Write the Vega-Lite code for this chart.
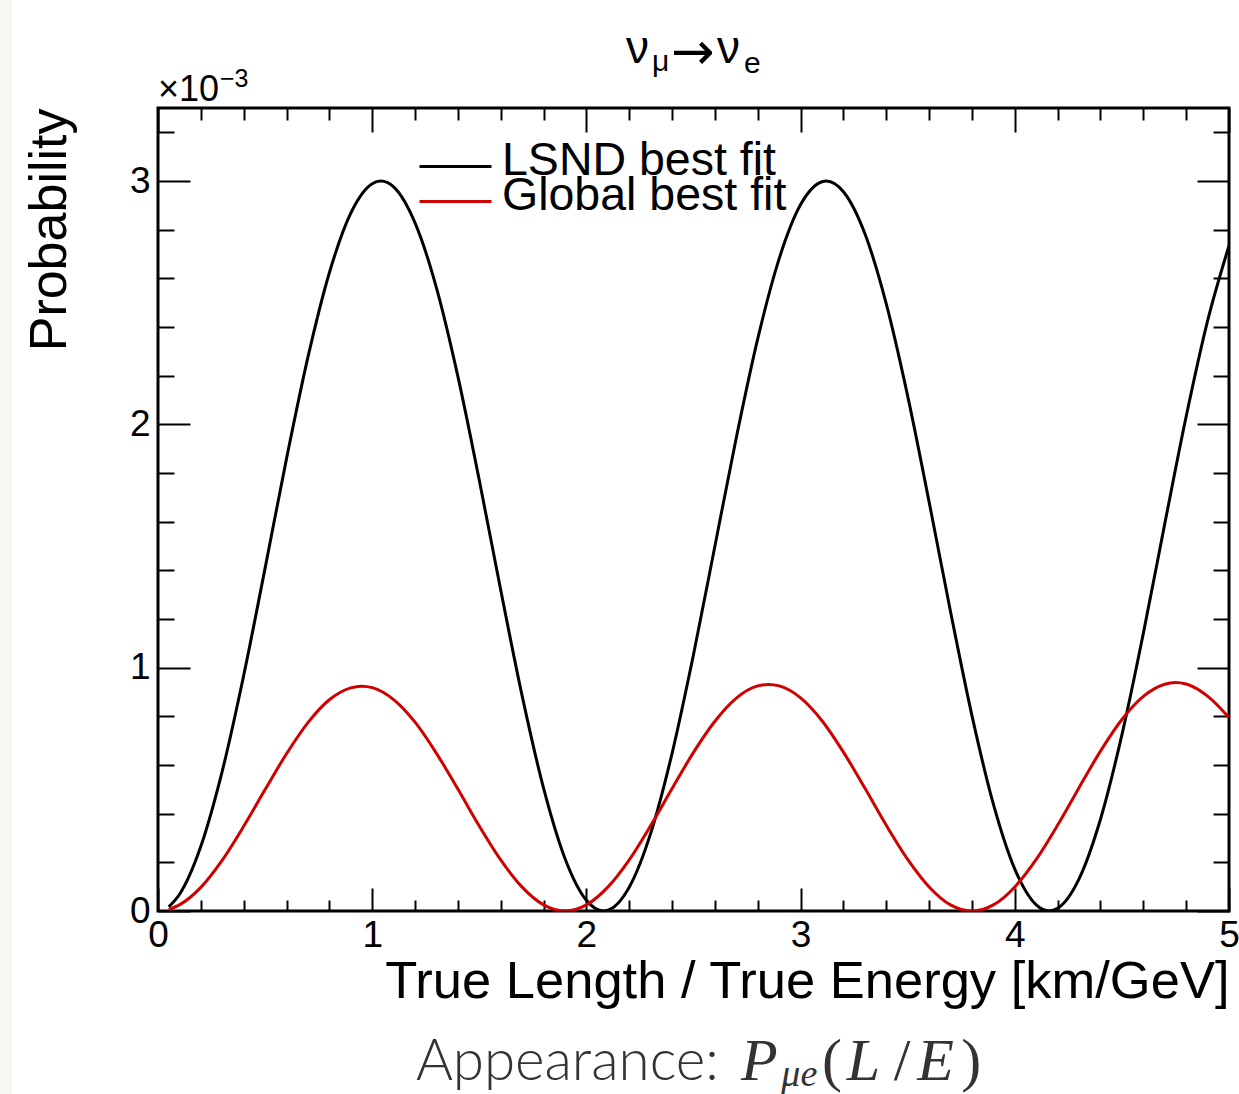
{
  "$schema": "https://vega.github.io/schema/vega-lite/v6.json",
  "width": 1071,
  "height": 803,
  "autosize": {"type": "none"},
  "padding": {"left": 158, "top": 108, "right": 10, "bottom": 183},
  "background": "white",
  "config": {
    "view": {"stroke": "#000", "strokeWidth": 3},
    "axis": {"domain": false, "grid": false, "tickColor": "#000", "tickWidth": 2},
    "legend": {"orient": "none", "title": null, "symbolType": "stroke", "symbolSize": 5184, "symbolStrokeWidth": 3,
      "labelFont": "Liberation Sans", "labelFontSize": 46.5, "labelColor": "#000", "labelOffset": 9, "padding": 0, "labelLimit": 1000},
    "text": {"color": "#000"}
  },
  "data": {"values": [
    {"series": "LSND best fit", "x": 0.05, "p": 0.017},
    {"series": "LSND best fit", "x": 0.1, "p": 0.068},
    {"series": "LSND best fit", "x": 0.2, "p": 0.266},
    {"series": "LSND best fit", "x": 0.3, "p": 0.575},
    {"series": "LSND best fit", "x": 0.4, "p": 0.968},
    {"series": "LSND best fit", "x": 0.5, "p": 1.409},
    {"series": "LSND best fit", "x": 0.6, "p": 1.859},
    {"series": "LSND best fit", "x": 0.7, "p": 2.276},
    {"series": "LSND best fit", "x": 0.8, "p": 2.623},
    {"series": "LSND best fit", "x": 0.9, "p": 2.868},
    {"series": "LSND best fit", "x": 1.0, "p": 2.989},
    {"series": "LSND best fit", "x": 1.04, "p": 3.0},
    {"series": "LSND best fit", "x": 1.1, "p": 2.976},
    {"series": "LSND best fit", "x": 1.2, "p": 2.828},
    {"series": "LSND best fit", "x": 1.3, "p": 2.561},
    {"series": "LSND best fit", "x": 1.4, "p": 2.197},
    {"series": "LSND best fit", "x": 1.5, "p": 1.770},
    {"series": "LSND best fit", "x": 1.6, "p": 1.319},
    {"series": "LSND best fit", "x": 1.7, "p": 0.884},
    {"series": "LSND best fit", "x": 1.8, "p": 0.505},
    {"series": "LSND best fit", "x": 1.9, "p": 0.216},
    {"series": "LSND best fit", "x": 2.0, "p": 0.044},
    {"series": "LSND best fit", "x": 2.08, "p": 0.0},
    {"series": "LSND best fit", "x": 2.1, "p": 0.003},
    {"series": "LSND best fit", "x": 2.2, "p": 0.098},
    {"series": "LSND best fit", "x": 2.3, "p": 0.319},
    {"series": "LSND best fit", "x": 2.4, "p": 0.648},
    {"series": "LSND best fit", "x": 2.5, "p": 1.054},
    {"series": "LSND best fit", "x": 2.6, "p": 1.500},
    {"series": "LSND best fit", "x": 2.7, "p": 1.946},
    {"series": "LSND best fit", "x": 2.8, "p": 2.352},
    {"series": "LSND best fit", "x": 2.9, "p": 2.681},
    {"series": "LSND best fit", "x": 3.0, "p": 2.903},
    {"series": "LSND best fit", "x": 3.1, "p": 2.997},
    {"series": "LSND best fit", "x": 3.12, "p": 3.0},
    {"series": "LSND best fit", "x": 3.2, "p": 2.956},
    {"series": "LSND best fit", "x": 3.3, "p": 2.784},
    {"series": "LSND best fit", "x": 3.4, "p": 2.495},
    {"series": "LSND best fit", "x": 3.5, "p": 2.116},
    {"series": "LSND best fit", "x": 3.6, "p": 1.681},
    {"series": "LSND best fit", "x": 3.7, "p": 1.230},
    {"series": "LSND best fit", "x": 3.8, "p": 0.803},
    {"series": "LSND best fit", "x": 3.9, "p": 0.439},
    {"series": "LSND best fit", "x": 4.0, "p": 0.172},
    {"series": "LSND best fit", "x": 4.1, "p": 0.025},
    {"series": "LSND best fit", "x": 4.16, "p": 0.0},
    {"series": "LSND best fit", "x": 4.2, "p": 0.011},
    {"series": "LSND best fit", "x": 4.3, "p": 0.132},
    {"series": "LSND best fit", "x": 4.4, "p": 0.377},
    {"series": "LSND best fit", "x": 4.5, "p": 0.724},
    {"series": "LSND best fit", "x": 4.6, "p": 1.141},
    {"series": "LSND best fit", "x": 4.7, "p": 1.591},
    {"series": "LSND best fit", "x": 4.8, "p": 2.032},
    {"series": "LSND best fit", "x": 4.9, "p": 2.425},
    {"series": "LSND best fit", "x": 5.0, "p": 2.734},
    {"series": "Global best fit", "x": 0.05, "p": 0.006},
    {"series": "Global best fit", "x": 0.1, "p": 0.025},
    {"series": "Global best fit", "x": 0.2, "p": 0.097},
    {"series": "Global best fit", "x": 0.3, "p": 0.209},
    {"series": "Global best fit", "x": 0.4, "p": 0.348},
    {"series": "Global best fit", "x": 0.5, "p": 0.499},
    {"series": "Global best fit", "x": 0.6, "p": 0.646},
    {"series": "Global best fit", "x": 0.7, "p": 0.774},
    {"series": "Global best fit", "x": 0.8, "p": 0.868},
    {"series": "Global best fit", "x": 0.9, "p": 0.917},
    {"series": "Global best fit", "x": 0.95, "p": 0.924},
    {"series": "Global best fit", "x": 1.0, "p": 0.918},
    {"series": "Global best fit", "x": 1.1, "p": 0.869},
    {"series": "Global best fit", "x": 1.2, "p": 0.776},
    {"series": "Global best fit", "x": 1.3, "p": 0.648},
    {"series": "Global best fit", "x": 1.4, "p": 0.501},
    {"series": "Global best fit", "x": 1.5, "p": 0.349},
    {"series": "Global best fit", "x": 1.6, "p": 0.210},
    {"series": "Global best fit", "x": 1.7, "p": 0.098},
    {"series": "Global best fit", "x": 1.8, "p": 0.025},
    {"series": "Global best fit", "x": 1.9, "p": 0.0},
    {"series": "Global best fit", "x": 2.0, "p": 0.025},
    {"series": "Global best fit", "x": 2.1, "p": 0.098},
    {"series": "Global best fit", "x": 2.2, "p": 0.210},
    {"series": "Global best fit", "x": 2.3, "p": 0.351},
    {"series": "Global best fit", "x": 2.4, "p": 0.503},
    {"series": "Global best fit", "x": 2.5, "p": 0.652},
    {"series": "Global best fit", "x": 2.6, "p": 0.780},
    {"series": "Global best fit", "x": 2.7, "p": 0.875},
    {"series": "Global best fit", "x": 2.8, "p": 0.925},
    {"series": "Global best fit", "x": 2.85, "p": 0.931},
    {"series": "Global best fit", "x": 2.9, "p": 0.925},
    {"series": "Global best fit", "x": 3.0, "p": 0.876},
    {"series": "Global best fit", "x": 3.1, "p": 0.782},
    {"series": "Global best fit", "x": 3.2, "p": 0.653},
    {"series": "Global best fit", "x": 3.3, "p": 0.505},
    {"series": "Global best fit", "x": 3.4, "p": 0.352},
    {"series": "Global best fit", "x": 3.5, "p": 0.212},
    {"series": "Global best fit", "x": 3.6, "p": 0.099},
    {"series": "Global best fit", "x": 3.7, "p": 0.025},
    {"series": "Global best fit", "x": 3.8, "p": 0.0},
    {"series": "Global best fit", "x": 3.9, "p": 0.025},
    {"series": "Global best fit", "x": 4.0, "p": 0.099},
    {"series": "Global best fit", "x": 4.1, "p": 0.212},
    {"series": "Global best fit", "x": 4.2, "p": 0.353},
    {"series": "Global best fit", "x": 4.3, "p": 0.507},
    {"series": "Global best fit", "x": 4.4, "p": 0.657},
    {"series": "Global best fit", "x": 4.5, "p": 0.787},
    {"series": "Global best fit", "x": 4.6, "p": 0.882},
    {"series": "Global best fit", "x": 4.7, "p": 0.932},
    {"series": "Global best fit", "x": 4.75, "p": 0.939},
    {"series": "Global best fit", "x": 4.8, "p": 0.933},
    {"series": "Global best fit", "x": 4.9, "p": 0.883},
    {"series": "Global best fit", "x": 5.0, "p": 0.795}
  ]},
  "resolve": {"axis": {"x": "independent", "y": "independent"}, "legend": {"color": "independent"}},
  "layer": [
    {
      "data": {"values": [{}]},
      "mark": {"type": "rect", "color": "#f7f7f2", "clip": false},
      "encoding": {
        "x": {"datum": -0.7376, "type": "quantitative", "axis": null},
        "x2": {"datum": -0.6816},
        "y": {"datum": 3.75, "type": "quantitative", "axis": null},
        "y2": {"datum": -0.76}
      }
    },
    {
      "transform": [{"filter": "datum.series === 'LSND best fit'"}],
      "mark": {"type": "line", "strokeWidth": 3, "interpolate": "monotone", "clip": true},
      "encoding": {
        "x": {"field": "x", "type": "quantitative",
          "scale": {"domain": [0, 5], "nice": false, "zero": false},
          "axis": {"orient": "bottom", "values": [0, 1, 2, 3, 4, 5], "format": "d",
            "tickSize": -23, "labelPadding": 29, "labelFlush": false, "labelOverlap": false,
            "labelFont": "Liberation Sans", "labelFontSize": 37, "labelColor": "#000",
            "title": "True Length / True Energy [km/GeV]", "titleFont": "Liberation Sans",
            "titleFontSize": 52.5, "titleFontWeight": "normal", "titleColor": "#000",
            "titleAlign": "right", "titleAnchor": "end", "titleBaseline": "alphabetic",
            "titleX": 1071, "titleY": 86}},
        "y": {"field": "p", "type": "quantitative",
          "scale": {"domain": [0, 3.3], "nice": false, "zero": false},
          "axis": {"orient": "left", "values": [0, 1, 2, 3], "format": "d",
            "tickSize": -32, "labelPadding": 40, "labelFlush": false, "labelOverlap": false,
            "labelFont": "Liberation Sans", "labelFontSize": 37, "labelColor": "#000",
            "title": "Probability", "titleFont": "Liberation Sans", "titleFontSize": 52,
            "titleFontWeight": "normal", "titleColor": "#000", "titleAngle": -90,
            "titleAlign": "right", "titleBaseline": "alphabetic", "titleX": -93, "titleY": 0}},
        "color": {"field": "series", "type": "nominal",
          "scale": {"domain": ["LSND best fit", "Global best fit"], "range": ["#000000", "#d00000"]},
          "legend": {"values": ["LSND best fit"], "legendX": 260, "legendY": 21,
            "encode": {"labels": {"update": {"dy": {"value": -6}}}}}}
      }
    },
    {
      "transform": [{"filter": "datum.series === 'Global best fit'"}],
      "mark": {"type": "line", "strokeWidth": 3, "interpolate": "monotone", "clip": true},
      "encoding": {
        "x": {"field": "x", "type": "quantitative",
          "axis": {"orient": "bottom", "values": [0.2,0.4,0.6,0.8,1.2,1.4,1.6,1.8,2.2,2.4,2.6,2.8,3.2,3.4,3.6,3.8,4.2,4.4,4.6,4.8],
            "tickSize": -11, "labels": false, "title": null}},
        "y": {"field": "p", "type": "quantitative",
          "axis": {"orient": "left", "values": [0.2,0.4,0.6,0.8,1.2,1.4,1.6,1.8,2.2,2.4,2.6,2.8,3.2],
            "tickSize": -16, "labels": false, "title": null}},
        "color": {"field": "series", "type": "nominal",
          "scale": {"domain": ["LSND best fit", "Global best fit"], "range": ["#000000", "#d00000"]},
          "legend": {"values": ["Global best fit"], "legendX": 260, "legendY": 56,
            "encode": {"labels": {"update": {"dy": {"value": -6}}}}}}
      }
    },
    {
      "mark": {"type": "line", "strokeOpacity": 0},
      "encoding": {
        "x": {"field": "x", "type": "quantitative",
          "axis": {"orient": "top", "values": [0, 1, 2, 3, 4, 5], "tickSize": -24, "labels": false, "title": null}},
        "y": {"field": "p", "type": "quantitative",
          "axis": {"orient": "right", "values": [0, 1, 2, 3], "tickSize": -32, "labels": false, "title": null}}
      }
    },
    {
      "mark": {"type": "line", "strokeOpacity": 0},
      "encoding": {
        "x": {"field": "x", "type": "quantitative",
          "axis": {"orient": "top", "values": [0.2,0.4,0.6,0.8,1.2,1.4,1.6,1.8,2.2,2.4,2.6,2.8,3.2,3.4,3.6,3.8,4.2,4.4,4.6,4.8],
            "tickSize": -12, "labels": false, "title": null}},
        "y": {"field": "p", "type": "quantitative",
          "axis": {"orient": "right", "values": [0.2,0.4,0.6,0.8,1.2,1.4,1.6,1.8,2.2,2.4,2.6,2.8,3.2],
            "tickSize": -16, "labels": false, "title": null}}
      }
    },
    {
      "data": {"values": [{}]},
      "mark": {"type": "text", "text": "ν", "font": "Liberation Sans", "fontSize": 46, "align": "left", "baseline": "alphabetic"},
      "encoding": {"x": {"datum": 2.185, "type": "quantitative", "axis": null}, "y": {"datum": 3.485, "type": "quantitative", "axis": null}}
    },
    {
      "data": {"values": [{}]},
      "mark": {"type": "text", "text": "μ", "font": "Liberation Sans", "fontSize": 30, "align": "left", "baseline": "alphabetic"},
      "encoding": {"x": {"datum": 2.306, "type": "quantitative", "axis": null}, "y": {"datum": 3.452, "type": "quantitative", "axis": null}}
    },
    {
      "data": {"values": [{}]},
      "mark": {"type": "text", "text": "→", "font": "DejaVu Sans", "fontSize": 52, "align": "left", "baseline": "alphabetic"},
      "encoding": {"x": {"datum": 2.395, "type": "quantitative", "axis": null}, "y": {"datum": 3.462, "type": "quantitative", "axis": null}}
    },
    {
      "data": {"values": [{}]},
      "mark": {"type": "text", "text": "ν", "font": "Liberation Sans", "fontSize": 46, "align": "left", "baseline": "alphabetic"},
      "encoding": {"x": {"datum": 2.61, "type": "quantitative", "axis": null}, "y": {"datum": 3.485, "type": "quantitative", "axis": null}}
    },
    {
      "data": {"values": [{}]},
      "mark": {"type": "text", "text": "e", "font": "Liberation Sans", "fontSize": 30, "align": "left", "baseline": "alphabetic"},
      "encoding": {"x": {"datum": 2.736, "type": "quantitative", "axis": null}, "y": {"datum": 3.444, "type": "quantitative", "axis": null}}
    },
    {
      "data": {"values": [{}]},
      "mark": {"type": "text", "text": "×10", "font": "Liberation Sans", "fontSize": 36, "align": "left", "baseline": "alphabetic"},
      "encoding": {"x": {"datum": 0.0, "type": "quantitative", "axis": null}, "y": {"datum": 3.329, "type": "quantitative", "axis": null}}
    },
    {
      "data": {"values": [{}]},
      "mark": {"type": "text", "text": "−3", "font": "Liberation Sans", "fontSize": 25, "align": "left", "baseline": "alphabetic"},
      "encoding": {"x": {"datum": 0.289, "type": "quantitative", "axis": null}, "y": {"datum": 3.386, "type": "quantitative", "axis": null}}
    },
    {
      "data": {"values": [{}]},
      "mark": {"type": "text", "text": "Appearance:", "font": "Lato", "fontWeight": 300, "fontSize": 56.5, "color": "#333333", "align": "left", "baseline": "alphabetic"},
      "encoding": {"x": {"datum": 1.204, "type": "quantitative", "axis": null}, "y": {"datum": -0.695, "type": "quantitative", "axis": null}}
    },
    {
      "data": {"values": [{}]},
      "mark": {"type": "text", "text": "P", "font": "Liberation Serif", "fontStyle": "italic", "fontSize": 60, "color": "#333333", "align": "left", "baseline": "alphabetic"},
      "encoding": {"x": {"datum": 2.722, "type": "quantitative", "axis": null}, "y": {"datum": -0.695, "type": "quantitative", "axis": null}}
    },
    {
      "data": {"values": [{}]},
      "mark": {"type": "text", "text": "μe", "font": "Liberation Serif", "fontStyle": "italic", "fontSize": 38, "color": "#333333", "align": "left", "baseline": "alphabetic"},
      "encoding": {"x": {"datum": 2.91, "type": "quantitative", "axis": null}, "y": {"datum": -0.72, "type": "quantitative", "axis": null}}
    },
    {
      "data": {"values": [{}]},
      "mark": {"type": "text", "text": "(", "font": "Liberation Serif", "fontSize": 60, "color": "#333333", "align": "left", "baseline": "alphabetic"},
      "encoding": {"x": {"datum": 3.1, "type": "quantitative", "axis": null}, "y": {"datum": -0.695, "type": "quantitative", "axis": null}}
    },
    {
      "data": {"values": [{}]},
      "mark": {"type": "text", "text": "L", "font": "Liberation Serif", "fontStyle": "italic", "fontSize": 60, "color": "#333333", "align": "left", "baseline": "alphabetic"},
      "encoding": {"x": {"datum": 3.215, "type": "quantitative", "axis": null}, "y": {"datum": -0.695, "type": "quantitative", "axis": null}}
    },
    {
      "data": {"values": [{}]},
      "mark": {"type": "text", "text": "/", "font": "Liberation Serif", "fontSize": 60, "color": "#333333", "align": "left", "baseline": "alphabetic"},
      "encoding": {"x": {"datum": 3.435, "type": "quantitative", "axis": null}, "y": {"datum": -0.695, "type": "quantitative", "axis": null}}
    },
    {
      "data": {"values": [{}]},
      "mark": {"type": "text", "text": "E", "font": "Liberation Serif", "fontStyle": "italic", "fontSize": 60, "color": "#333333", "align": "left", "baseline": "alphabetic"},
      "encoding": {"x": {"datum": 3.545, "type": "quantitative", "axis": null}, "y": {"datum": -0.695, "type": "quantitative", "axis": null}}
    },
    {
      "data": {"values": [{}]},
      "mark": {"type": "text", "text": ")", "font": "Liberation Serif", "fontSize": 60, "color": "#333333", "align": "left", "baseline": "alphabetic"},
      "encoding": {"x": {"datum": 3.75, "type": "quantitative", "axis": null}, "y": {"datum": -0.695, "type": "quantitative", "axis": null}}
    }
  ]
}
